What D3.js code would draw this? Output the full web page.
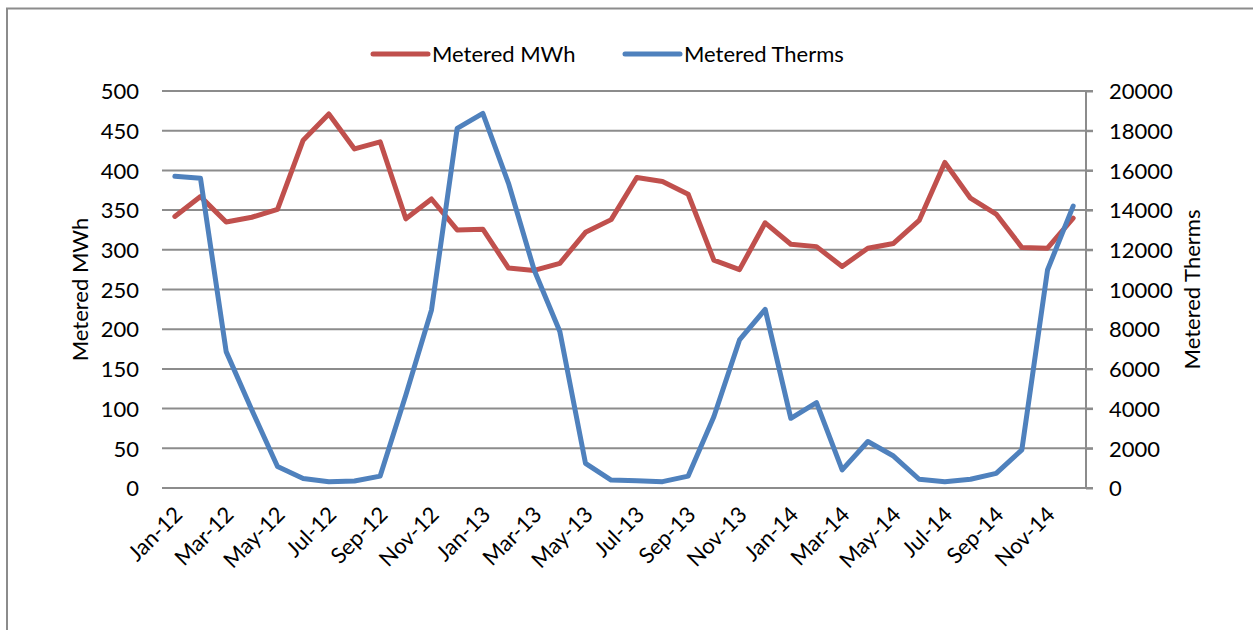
<!DOCTYPE html>
<html>
<head>
<meta charset="utf-8">
<script src="https://cdn.jsdelivr.net/npm/d3@7/dist/d3.min.js"></script>
<style>
  html, body { margin: 0; padding: 0; background: #fff; }
  svg { display: block; }
  text { font-family: Lato, "Liberation Sans", sans-serif; fill: #000; }
</style>
</head>
<body>
<svg id="chart" width="1253" height="630"></svg>
<script>
// Monthly metered electricity (MWh) and gas (therms), Jan 2012 – Dec 2014
const months = [
  "Jan-12","Feb-12","Mar-12","Apr-12","May-12","Jun-12","Jul-12","Aug-12","Sep-12","Oct-12","Nov-12","Dec-12",
  "Jan-13","Feb-13","Mar-13","Apr-13","May-13","Jun-13","Jul-13","Aug-13","Sep-13","Oct-13","Nov-13","Dec-13",
  "Jan-14","Feb-14","Mar-14","Apr-14","May-14","Jun-14","Jul-14","Aug-14","Sep-14","Oct-14","Nov-14","Dec-14"
];
const meteredMWh = [
  342, 367, 335, 341, 351, 438, 471, 427, 436, 339, 364, 325,
  326, 277, 274, 283, 322, 338, 391, 386, 370, 287, 275, 334,
  307, 304, 279, 302, 308, 337, 410, 365, 345, 303, 302, 340
];
const meteredTherms = [
  15700, 15600, 6870, 3930, 1080, 480, 320, 350, 600, 4690, 8970, 18120,
  18870, 15350, 10980, 7880, 1240, 400, 370, 320, 600, 3590, 7460, 9000,
  3510, 4300, 910, 2340, 1610, 440, 320, 440, 740, 1920, 10980, 14200
];
const leftTicks = [0, 50, 100, 150, 200, 250, 300, 350, 400, 450, 500];
const rightTicks = [0, 2000, 4000, 6000, 8000, 10000, 12000, 14000, 16000, 18000, 20000];
const seriesNames = ["Metered MWh", "Metered Therms"];
const seriesColors = ["#C0504D", "#4F81BD"];

const svg = d3.select("#chart");
const plot = { left: 162, right: 1086, top: 91, bottom: 488 };
const fontSize = 22;
const gridColor = "#8C8C8C";

// outer chart frame (top and left edges fall inside the page)
svg.append("rect")
  .attr("x", 7).attr("y", 8.5)
  .attr("width", 1300).attr("height", 700)
  .attr("fill", "none").attr("stroke", "#8C8C8C").attr("stroke-width", 2);

const x = d3.scaleBand().domain(months).range([plot.left, plot.right]);
const yL = d3.scaleLinear().domain([0, 500]).range([plot.bottom, plot.top]);
const yR = d3.scaleLinear().domain([0, 20000]).range([plot.bottom, plot.top]);
const cx = d => x(d) + x.bandwidth() / 2;

// horizontal gridlines + left tick labels
const leftAxis = d3.axisLeft(yL).tickValues(leftTicks).tickSize(0).tickPadding(0);
const gL = svg.append("g").attr("transform", `translate(${plot.left},0)`).call(leftAxis);
gL.select(".domain").remove();
gL.selectAll(".tick line").remove();
gL.selectAll(".tick text")
  .attr("x", -23).attr("dy", "0.35em")
  .style("font-size", fontSize + "px").style("font-family", "Lato, sans-serif");

svg.append("g").selectAll("line").data(leftTicks).join("line")
  .attr("x1", plot.left).attr("x2", plot.right + 7)
  .attr("y1", d => yL(d)).attr("y2", d => yL(d))
  .attr("stroke", gridColor).attr("stroke-width", 2);

// right axis
const rightAxis = d3.axisRight(yR).tickValues(rightTicks).tickFormat(d3.format("d"))
  .tickSize(7).tickPadding(16);
const gR = svg.append("g").attr("transform", `translate(${plot.right},0)`).call(rightAxis);
gR.select(".domain").attr("stroke", gridColor).attr("stroke-width", 2).attr("d", `M0,${plot.top}V${plot.bottom}`);
gR.selectAll(".tick line").attr("stroke", gridColor).attr("stroke-width", 2);
gR.selectAll(".tick text")
  .attr("dy", "0.35em")
  .style("font-size", fontSize + "px").style("font-family", "Lato, sans-serif");

// category axis
const bottomAxis = d3.axisBottom(x).tickValues(months.filter((m, i) => i % 2 === 0)).tickSize(0).tickPadding(0);
const gB = svg.append("g").attr("transform", `translate(0,${plot.bottom})`).call(bottomAxis);
gB.select(".domain").attr("stroke", gridColor).attr("stroke-width", 2).attr("d", `M${plot.left},0H${plot.right}`);
gB.selectAll(".tick text")
  .attr("text-anchor", "end")
  .attr("transform", "translate(-2,17) rotate(-45)")
  .attr("y", 0).attr("dy", "0.7em")
  .style("font-size", fontSize + "px").style("font-family", "Lato, sans-serif");

// axis titles
svg.append("text")
  .attr("transform", `translate(88,${(plot.top + plot.bottom) / 2}) rotate(-90)`)
  .attr("text-anchor", "middle")
  .style("font-size", fontSize + "px")
  .text("Metered MWh");
svg.append("text")
  .attr("transform", `translate(1200,${(plot.top + plot.bottom) / 2}) rotate(-90)`)
  .attr("text-anchor", "middle")
  .style("font-size", fontSize + "px")
  .text("Metered Therms");

// series lines
const lineL = d3.line().x((d, i) => cx(months[i])).y(d => yL(d));
const lineR = d3.line().x((d, i) => cx(months[i])).y(d => yR(d));
svg.append("path").datum(meteredMWh)
  .attr("d", lineL).attr("fill", "none")
  .attr("stroke", seriesColors[0]).attr("stroke-width", 5)
  .attr("stroke-linejoin", "round").attr("stroke-linecap", "round");
svg.append("path").datum(meteredTherms)
  .attr("d", lineR).attr("fill", "none")
  .attr("stroke", seriesColors[1]).attr("stroke-width", 5)
  .attr("stroke-linejoin", "round").attr("stroke-linecap", "round");

// legend
const legendX = [373, 625];
const legend = svg.append("g");
seriesNames.forEach((name, i) => {
  legend.append("line")
    .attr("x1", legendX[i]).attr("x2", legendX[i] + 55)
    .attr("y1", 54).attr("y2", 54)
    .attr("stroke", seriesColors[i]).attr("stroke-width", 5)
    .attr("stroke-linecap", "round");
  legend.append("text")
    .attr("x", legendX[i] + 59).attr("y", 54).attr("dy", "0.35em")
    .style("font-size", fontSize + "px")
    .text(name);
});
</script>
</body>
</html>
